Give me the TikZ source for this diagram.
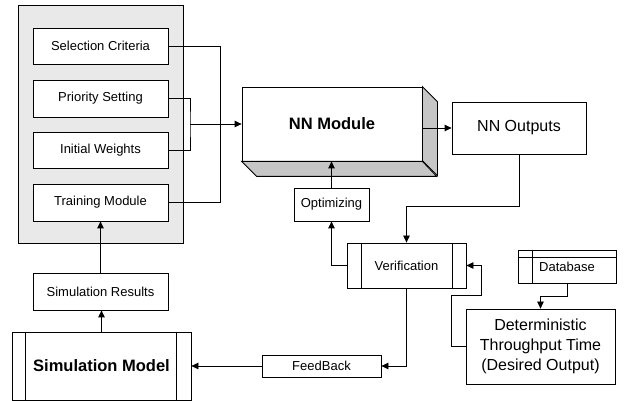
\documentclass[tikz,border=0pt]{standalone}
\usepackage{fontspec}
\setmainfont{Liberation Sans}
\usetikzlibrary{arrows.meta,calc}
\begin{document}
\begin{tikzpicture}[x=1pt,y=-1pt,
  line width=0.8pt,
  blk/.style={draw, fill=white, inner sep=0pt, align=center,
    font=\fontsize{13}{15}\selectfont},
  bigtext/.style={font=\fontsize{16}{20}\selectfont},
  boldtext/.style={font=\fontsize{16.5}{20}\selectfont\bfseries},
  conn/.style={-{Triangle[length=7pt,width=6.5pt]}},
  plain/.style={-}
]
\useasboundingbox (0,0) rectangle (625,401);

% shaded group of input settings
\node[draw, fill=gray!17, minimum width=165pt, minimum height=238pt, inner sep=0pt] (grp) at (100.5,124) {};

\node[blk, minimum width=135pt, minimum height=36pt] (sel) at (100.5,46) {Selection Criteria};
\node[blk, minimum width=135pt, minimum height=37pt] (pri) at (100.5,98.5) {Priority Setting};
\node[blk, minimum width=135pt, minimum height=36pt] (ini) at (100.5,150) {Initial Weights};
\node[blk, minimum width=135pt, minimum height=37pt] (trn) at (100.5,202.5) {Training Module};

% 3D block for the network
\node[draw, fill=white, minimum width=180pt, minimum height=74pt, inner sep=0pt, boldtext] (nn) at (332,124) {NN Module};
\draw[fill=gray!45] (nn.north east) -- ++(15,15) -- ++(0,74) -- ++(-15,-15) -- cycle;
\draw[fill=gray!45] (nn.south west) -- ++(15,15) -- ++(180,0) -- (nn.south east) -- cycle;

\node[blk, bigtext, minimum width=134pt, minimum height=52pt] (out) at (519,128) {NN Outputs};
\node[blk, minimum width=75pt, minimum height=33pt] (opt) at (331.5,204.5) {Optimizing};

% verification block with side bars
\node[blk, minimum width=119pt, minimum height=45pt] (ver) at (406.5,265.5) {Verification};
\draw ($(ver.north west)+(15,0)$) -- ($(ver.south west)+(15,0)$);
\draw ($(ver.north east)+(-14,0)$) -- ($(ver.south east)+(-14,0)$);

% database record
\node[blk, minimum width=98pt, minimum height=33pt] (db) at (567,266.5) {Database};
\draw ($(db.north west)+(0,8)$) -- ($(db.north east)+(0,8)$);
\draw ($(db.north west)+(15,0)$) -- ($(db.south west)+(15,0)$);

\node[blk, bigtext, minimum width=149pt, minimum height=75pt] (det) at (540.5,346.5) {Deterministic\\Throughput Time\\(Desired Output)};

\node[blk, minimum width=119pt, minimum height=22pt] (fb) at (321.5,366) {FeedBack};
\node[blk, minimum width=135pt, minimum height=37pt] (res) at (100.5,291.5) {Simulation Results};

% simulation model block with side bars
\node[blk, boldtext, minimum width=179pt, minimum height=68pt] (sim) at (101.5,366) {Simulation Model};
\draw ($(sim.north west)+(14,0)$) -- ($(sim.south west)+(14,0)$);
\draw ($(sim.north east)+(-15,0)$) -- ($(sim.south east)+(-15,0)$);

% connectors
\coordinate (jn) at (190,124);
\draw[plain] (sel.east) -- ++(52,0) |- (trn.east);
\draw[plain] (pri.east) -| (jn) |- (ini.east);
\draw[conn] (jn) -- (nn.west);
\draw[conn] (nn.east |- out.west) -- (out.west);
\draw[conn] (out.south) -- ++(0,52) -| (ver.north);
\draw[conn] (ver.west) -| (opt.south);
\draw[conn] (opt.north) -- (opt.north |- nn.south);
\draw[conn] (ver.south) |- (fb.east);
\draw[conn] (fb.west) -- (sim.east |- fb.west);
\draw[conn] (sim.north) -- (sim.north |- res.south);
\draw[conn] (res.north) -- (res.north |- trn.south);
\draw[conn] (db.south) -- ++(0,13) -| (det.north);
\draw[conn] (det.west) -- ++(-14,0) -- ++(0,-51) -- ++(30,0) |- (ver.east);
\end{tikzpicture}
\end{document}
